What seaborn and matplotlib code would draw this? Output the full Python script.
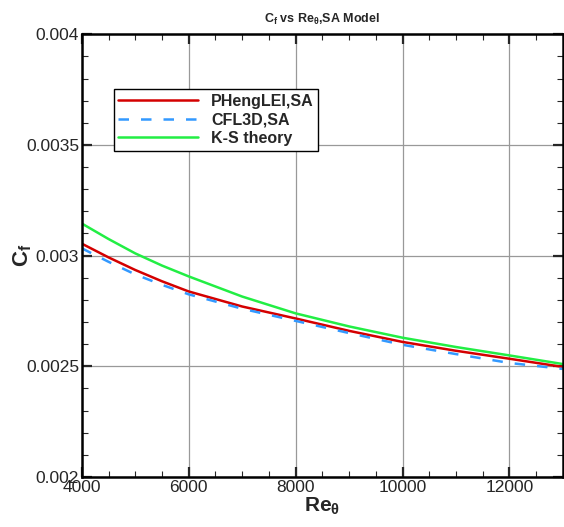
import numpy as np
import pandas as pd
import matplotlib
matplotlib.use("Agg")
import matplotlib.pyplot as plt
import seaborn as sns
from matplotlib.ticker import MultipleLocator, FuncFormatter

re_theta = [4000, 4500, 5000, 5500, 6000, 7000, 8000, 9000, 10000, 11000, 12000, 13000]
cf_phenglei = [0.003054, 0.002992, 0.002935, 0.002884, 0.002838, 0.002770, 0.002716,
               0.002660, 0.002610, 0.002570, 0.002534, 0.002497]
cf_cfl3d = [0.003033, 0.002972, 0.002915, 0.002868, 0.002825, 0.002760, 0.002705,
            0.002650, 0.002597, 0.002555, 0.002515, 0.002488]
cf_ks = [0.003145, 0.003075, 0.003010, 0.002955, 0.002906, 0.002815, 0.002739,
         0.002680, 0.002629, 0.002587, 0.002549, 0.002510]

sns.set_style("ticks")
plt.rcParams['font.family'] = ['Liberation Sans', 'DejaVu Sans']
plt.rcParams['mathtext.default'] = 'regular'

fig = plt.figure(figsize=(5.64, 5.27), dpi=100)
ax = fig.add_axes([0.145, 0.095, 0.853, 0.84])

sns.lineplot(x=re_theta, y=cf_phenglei, ax=ax, color='#d40000', lw=1.8, label='PHengLEI,SA')
sns.lineplot(x=re_theta, y=cf_cfl3d, ax=ax, color='#3399ff', lw=1.8, label='CFL3D,SA')
ax.lines[-1].set_dashes([4.2, 4.8])
sns.lineplot(x=re_theta, y=cf_ks, ax=ax, color='#22ee44', lw=1.8, label='K-S theory')

ax.set_xlim(4000, 13000)
ax.set_ylim(0.002, 0.004)
ax.xaxis.set_major_locator(MultipleLocator(2000))
ax.xaxis.set_minor_locator(MultipleLocator(500))
ax.yaxis.set_major_locator(MultipleLocator(0.0005))
ax.yaxis.set_minor_locator(MultipleLocator(0.0001))
ax.yaxis.set_major_formatter(FuncFormatter(lambda v, p: ('%.4f' % v).rstrip('0')))
ax.grid(True, which='major', color='#999999', lw=0.9)
ax.tick_params(which='both', direction='in', top=True, right=True, labelsize=12.5, pad=2)
ax.tick_params(which='major', length=7, width=1.6)
ax.tick_params(which='minor', length=4, width=0.8)
for s in ax.spines.values():
    s.set_linewidth(1.8)
    s.set_color('black')

ax.set_xlabel(r'Re$_\theta$', fontsize=15, fontweight='bold', labelpad=1)
ax.set_ylabel(r'C$_f$', fontsize=16, fontweight='bold', labelpad=-6)
ax.set_title(r'C$_f$ vs Re$_\theta$,SA Model', fontsize=9, fontweight='bold', pad=8)

leg = ax.legend(loc='upper left', bbox_to_anchor=(0.066, 0.876), frameon=True, fancybox=False,
                edgecolor='black', prop={'weight': 'bold', 'size': 11.5}, handlelength=5.0,
                handletextpad=0.8, borderpad=0.3, labelspacing=0.22, borderaxespad=0)
leg.get_frame().set_linewidth(1.0)
leg.get_frame().set_alpha(1)

fig.savefig('out.png', dpi=100)
